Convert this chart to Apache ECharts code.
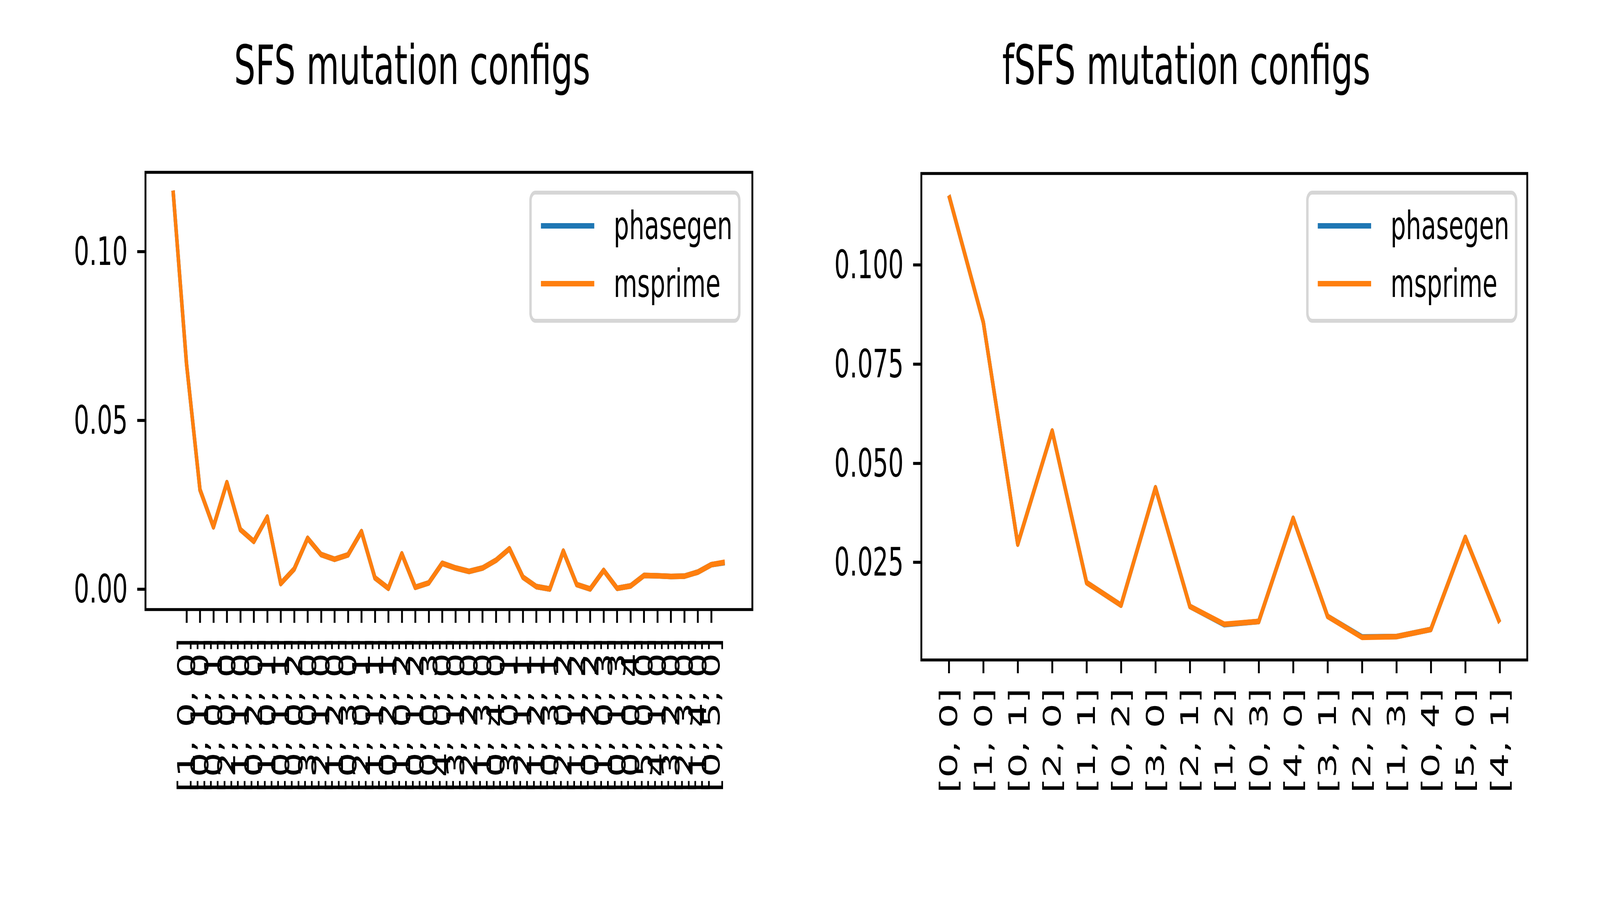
<!DOCTYPE html>
<html>
<head>
<meta charset="utf-8">
<script src="https://cdn.jsdelivr.net/npm/echarts@6/dist/echarts.min.js"></script>
<style>
html,body{margin:0;padding:0;background:#ffffff;overflow:hidden;}
#stage{position:absolute;left:0;top:0;width:6599px;height:2334px;transform-origin:0 0;}
#chart{width:6599px;height:2334px;}
</style>
</head>
<body>
<div id="stage"><div id="chart"></div></div>
<script>
// ---------- data ----------
const sfsConfigs = [
  '[0, 0, 0]',
  '[1, 0, 0]', '[0, 1, 0]', '[0, 0, 1]',
  '[2, 0, 0]', '[1, 1, 0]', '[0, 2, 0]', '[1, 0, 1]', '[0, 1, 1]', '[0, 0, 2]',
  '[3, 0, 0]', '[2, 1, 0]', '[1, 2, 0]', '[0, 3, 0]', '[2, 0, 1]', '[1, 1, 1]', '[0, 2, 1]', '[1, 0, 2]', '[0, 1, 2]', '[0, 0, 3]',
  '[4, 0, 0]', '[3, 1, 0]', '[2, 2, 0]', '[1, 3, 0]', '[0, 4, 0]', '[3, 0, 1]', '[2, 1, 1]', '[1, 2, 1]', '[0, 3, 1]', '[2, 0, 2]',
  '[1, 1, 2]', '[0, 2, 2]', '[1, 0, 3]', '[0, 1, 3]', '[0, 0, 4]',
  '[5, 0, 0]', '[4, 1, 0]', '[3, 2, 0]', '[2, 3, 0]', '[1, 4, 0]', '[0, 5, 0]', '[4, 0, 1]'
];
const sfsPhasegen = [
  0.1181, 0.0668, 0.0295, 0.0185, 0.0316, 0.0177, 0.0142, 0.0214, 0.0017, 0.0060,
  0.0151, 0.0103, 0.0089, 0.0102, 0.0171, 0.0034, 0.0003, 0.0105, 0.0006, 0.0019,
  0.0077, 0.0063, 0.0053, 0.0063, 0.0086, 0.0120, 0.0036, 0.0008, 0.0001, 0.0113,
  0.0014, 0.0001, 0.0056, 0.0003, 0.0010, 0.0041, 0.0040, 0.0038, 0.0039, 0.0051,
  0.0073, 0.0079
];
const sfsMsprime = [
  0.1181, 0.0668, 0.0295, 0.0185, 0.0316, 0.0177, 0.0142, 0.0214, 0.0017, 0.0060,
  0.0151, 0.0103, 0.0089, 0.0102, 0.0171, 0.0034, 0.0003, 0.0105, 0.0006, 0.0019,
  0.0077, 0.0063, 0.0053, 0.0063, 0.0086, 0.0120, 0.0036, 0.0008, 0.0001, 0.0113,
  0.0014, 0.0001, 0.0056, 0.0003, 0.0010, 0.0041, 0.0040, 0.0038, 0.0039, 0.0051,
  0.0073, 0.0080
];
const fsfsConfigs = [
  '[0, 0]', '[1, 0]', '[0, 1]', '[2, 0]', '[1, 1]', '[0, 2]', '[3, 0]', '[2, 1]', '[1, 2]',
  '[0, 3]', '[4, 0]', '[3, 1]', '[2, 2]', '[1, 3]', '[0, 4]', '[5, 0]', '[4, 1]'
];
const fsfsPhasegen = [
  0.1175, 0.0855, 0.0296, 0.0581, 0.0199, 0.0142, 0.0438, 0.0139, 0.0093,
  0.0101, 0.0361, 0.0114, 0.0062, 0.0063, 0.0081, 0.0313, 0.0098
];
const fsfsMsprime = [
  0.1175, 0.0855, 0.0296, 0.0581, 0.0199, 0.0142, 0.0438, 0.0139, 0.0094,
  0.0101, 0.0361, 0.0114, 0.0061, 0.0063, 0.0081, 0.0313, 0.0098
];
const sfsYTicks = [0.00, 0.05, 0.10];
const sfsYTickLabels = ['0.00', '0.05', '0.10'];
const fsfsYTicks = [0.025, 0.050, 0.075, 0.100];
const fsfsYTickLabels = ['0.025', '0.050', '0.075', '0.100'];
const seriesNames = ['phasegen', 'msprime'];
const titles = ['SFS mutation configs', 'fSFS mutation configs'];

// ---------- fit the 6599x2334 drawing to the real viewport ----------
const stage = document.getElementById('stage');
const VW = window.innerWidth || 6599;
const VH = window.innerHeight || 2334;
stage.style.transform = 'scale(' + (VW / 6599) + ',' + (VH / 2334) + ')';

// ---------- style ----------
const FONT = 'DejaVu Sans';
const TICK_FS = 100;
const TITLE_FS = 139;
const SPINE = 7.7;
const LW = 14.4;
const TICKLEN = 34;
const BLUE = '#1f77b4';
const ORANGE = '#ff7f0e';

function xAxisFor(gridIndex, cats) {
  const n = cats.length - 1;
  const idx = cats.map((_, i) => i);
  return {
    type: 'value', gridIndex: gridIndex,
    min: -0.05 * n, max: n * 1.05,
    axisLine: { show: false, onZero: false },
    splitLine: { show: false },
    axisTick: { show: true, inside: false, customValues: idx, length: TICKLEN, lineStyle: { color: '#000', width: SPINE } },
    axisLabel: {
      show: true, customValues: idx, hideOverlap: false,
      formatter: function (v) { return cats[Math.round(v)]; },
      rotate: 90, margin: 72, fontSize: TICK_FS, fontFamily: FONT, color: '#000'
    }
  };
}
function yAxisFor(gridIndex, min, max, ticks, labels) {
  return {
    type: 'value', gridIndex: gridIndex, min: min, max: max,
    axisLine: { show: false, onZero: false },
    splitLine: { show: false },
    axisTick: { show: true, inside: false, customValues: ticks, length: TICKLEN, lineStyle: { color: '#000', width: SPINE } },
    axisLabel: {
      show: true, customValues: ticks, hideOverlap: false,
      formatter: function (v) {
        const k = ticks.findIndex(t => Math.abs(t - v) < 1e-9);
        return k >= 0 ? labels[k] : '';
      },
      margin: 73, fontSize: TICK_FS, fontFamily: FONT, color: '#000'
    }
  };
}
function lineSeries(name, vals, axisIdx, color) {
  return {
    name: name, type: 'line', xAxisIndex: axisIdx, yAxisIndex: axisIdx,
    data: vals.map((v, i) => [i, v]),
    symbol: 'none', showSymbol: false,
    color: color,
    lineStyle: { color: color, width: LW, join: 'round', cap: 'butt' },
    animation: false
  };
}
function legendFor(left, top) {
  return {
    left: left, top: top, orient: 'vertical', data: seriesNames,
    icon: 'rect', itemWidth: 220, itemHeight: 14, itemGap: 48,
    padding: [35, 28, 45, 43],
    backgroundColor: '#ffffff', borderColor: '#d6d6d6', borderWidth: 10, borderRadius: 20,
    selectedMode: false,
    textStyle: { fontSize: TICK_FS, fontFamily: FONT, color: '#000', lineHeight: 100, padding: [0, 0, 0, 75] }
  };
}

const chart = echarts.init(document.getElementById('chart'), null, { renderer: 'svg', width: 6599, height: 2334 });
chart.setOption({
  backgroundColor: '#ffffff',
  animation: false,
  grid: [
    { left: 600, top: 441, width: 2503, height: 1119, show: true, borderColor: '#000', borderWidth: SPINE, backgroundColor: 'transparent', containLabel: false },
    { left: 3800, top: 444, width: 2499, height: 1245, show: true, borderColor: '#000', borderWidth: SPINE, backgroundColor: 'transparent', containLabel: false }
  ],
  xAxis: [xAxisFor(0, sfsConfigs), xAxisFor(1, fsfsConfigs)],
  yAxis: [
    yAxisFor(0, -0.006, 0.1235, sfsYTicks, sfsYTickLabels),
    yAxisFor(1, 0.0004, 0.1230, fsfsYTicks, fsfsYTickLabels)
  ],
  legend: [legendFor(2188, 493), legendFor(5392, 493)],
  series: [
    lineSeries(seriesNames[0], sfsPhasegen, 0, BLUE),
    lineSeries(seriesNames[1], sfsMsprime, 0, ORANGE),
    lineSeries(seriesNames[0], fsfsPhasegen, 1, BLUE),
    lineSeries(seriesNames[1], fsfsMsprime, 1, ORANGE)
  ],
  graphic: [
    { type: 'text', x: 1700, y: 167, style: { text: titles[0], fontSize: TITLE_FS, fontFamily: FONT, fill: '#000', align: 'center', verticalAlign: 'middle' } },
    { type: 'text', x: 4893, y: 167, style: { text: titles[1], fontSize: TITLE_FS, fontFamily: FONT, fill: '#000', align: 'center', verticalAlign: 'middle' } }
  ]
});
</script>
</body>
</html>
